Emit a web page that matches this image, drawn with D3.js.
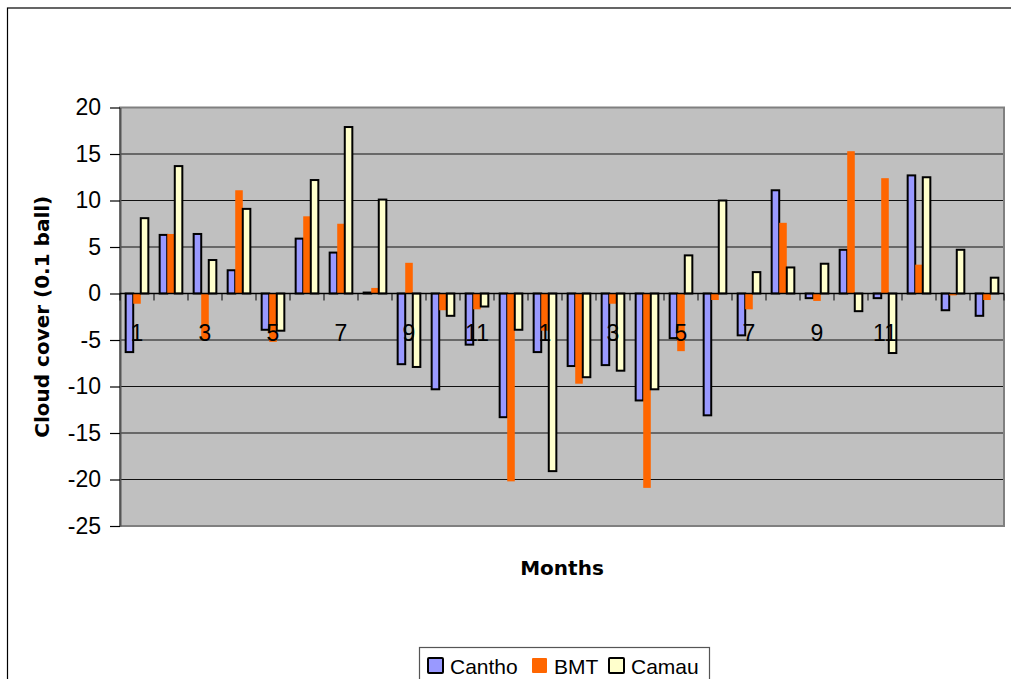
<!DOCTYPE html>
<html>
<head>
<meta charset="utf-8">
<script src="https://cdnjs.cloudflare.com/ajax/libs/d3/7.8.5/d3.min.js"></script>
<style>
  body { margin: 0; background: #fff; }
  svg { display: block; }
</style>
</head>
<body>
<div id="chart"></div>
<script>
// months 1..12, 1..12, 1..2
var months = ["1","2","3","4","5","6","7","8","9","10","11","12",
              "1","2","3","4","5","6","7","8","9","10","11","12","1","2"];
var cantho = [-6.3, 6.3, 6.4, 2.5, -3.9, 5.9, 4.4, 0.1, -7.6, -10.3, -5.5, -13.3,
              -6.3, -7.8, -7.7, -11.5, -4.8, -13.1, -4.5, 11.1, -0.5, 4.7, -0.5, 12.7, -1.8, -2.4];
var bmt    = [-1.1, 6.4, -4.9, 11.1, -5.2, 8.3, 7.5, 0.6, 3.3, -1.8, -1.7, -20.2,
              -4.0, -9.7, -1.1, -20.9, -6.2, -0.7, -1.7, 7.6, -0.8, 15.3, 12.4, 3.1, -0.2, -0.7];
var camau  = [8.1, 13.7, 3.6, 9.1, -4.0, 12.2, 17.9, 10.1, -7.9, -2.4, -1.4, -3.9,
              -19.1, -9.0, -8.3, -10.3, 4.1, 10.0, 2.3, 2.8, 3.2, -1.9, -6.4, 12.5, 4.7, 1.7];
var seriesNames = ["Cantho", "BMT", "Camau"];
var yTicks = [-25, -20, -15, -10, -5, 0, 5, 10, 15, 20];

var W = 1011, H = 679;
var plot = {left: 120, right: 1004, top: 107.5, bottom: 526};
var fills = {"Cantho": "#9999ff", "BMT": "#ff6600", "Camau": "#ffffcc"};
var strokes = {"Cantho": "#000", "BMT": "none", "Camau": "#000"};

var data = months.map(function(m, i) {
    return {idx: i, label: m, values: [cantho[i], bmt[i], camau[i]]};
});

var svg = d3.select("#chart").append("svg")
    .attr("width", W)
    .attr("height", H);

// chart border
svg.append("rect")
    .attr("x", 7.5).attr("y", 8)
    .attr("width", 1100).attr("height", 800)
    .attr("fill", "#fff")
    .attr("stroke", "#000")
    .attr("stroke-width", 1.2);

var x0 = d3.scaleBand()
    .domain(d3.range(months.length))
    .range([plot.left, plot.right])
    .padding(0);

var x1 = d3.scaleBand()
    .domain(seriesNames)
    .range([0, x0.bandwidth()])
    .paddingInner(0)
    .paddingOuter(0.75);

var y = d3.scaleLinear()
    .domain([-25, 20])
    .range([plot.bottom, plot.top]);

// plot area
svg.append("rect")
    .attr("x", plot.left).attr("y", plot.top)
    .attr("width", plot.right - plot.left)
    .attr("height", plot.bottom - plot.top)
    .attr("fill", "#c0c0c0");

// gridlines
svg.append("g")
    .selectAll("line")
    .data(yTicks.filter(function(t) { return t > -25 && t < 20; }))
    .enter().append("line")
    .attr("x1", plot.left).attr("x2", plot.right)
    .attr("y1", function(d) { return y(d); })
    .attr("y2", function(d) { return y(d); })
    .attr("stroke", "#111")
    .attr("stroke-width", 1.2);

svg.append("rect")
    .attr("x", plot.left).attr("y", plot.top)
    .attr("width", plot.right - plot.left)
    .attr("height", plot.bottom - plot.top)
    .attr("fill", "none")
    .attr("stroke", "#808080")
    .attr("stroke-width", 2);

// y axis
var yAxis = svg.append("g")
    .attr("transform", "translate(" + plot.left + ",0)")
    .call(d3.axisLeft(y).tickValues(yTicks)
        .tickFormat(function(d) { return String(d); })
        .tickSize(10).tickPadding(9).tickSizeOuter(0));
yAxis.select(".domain").attr("stroke", "#555").attr("stroke-width", 2);
yAxis.selectAll(".tick line").attr("stroke", "#000").attr("stroke-width", 1.2);
yAxis.selectAll(".tick text")
    .attr("font-family", "Liberation Sans, Arial, sans-serif")
    .attr("font-size", "23px")
    .attr("fill", "#000");

// bars
var groups = svg.append("g")
    .selectAll("g")
    .data(data)
    .enter().append("g")
    .attr("transform", function(d) { return "translate(" + x0(d.idx) + ",0)"; });

groups.selectAll("rect")
    .data(function(d) {
        return seriesNames.map(function(s, k) { return {series: s, value: d.values[k]}; });
    })
    .enter().append("rect")
    .attr("x", function(d) { return x1(d.series); })
    .attr("width", x1.bandwidth())
    .attr("y", function(d) { return y(Math.max(0, d.value)); })
    .attr("height", function(d) { return Math.abs(y(d.value) - y(0)); })
    .attr("fill", function(d) { return fills[d.series]; })
    .attr("stroke", function(d) { return strokes[d.series]; })
    .attr("stroke-width", 2);

// category axis at zero
var xAxisTicks = d3.range(months.length + 1).map(function(i) {
    return plot.left + i * x0.step();
});
var xAxis = svg.append("g");
xAxis.append("line")
    .attr("x1", plot.left).attr("x2", plot.right)
    .attr("y1", y(0)).attr("y2", y(0))
    .attr("stroke", "#000")
    .attr("stroke-width", 1.5);
xAxis.selectAll(".xt")
    .data(xAxisTicks)
    .enter().append("line")
    .attr("class", "xt")
    .attr("x1", function(d) { return d; })
    .attr("x2", function(d) { return d; })
    .attr("y1", y(0)).attr("y2", y(0) + 7)
    .attr("stroke", "#000")
    .attr("stroke-width", 1);
xAxis.selectAll("text")
    .data(data.filter(function(d) { return d.idx % 2 === 0 && d.idx < 24; }))
    .enter().append("text")
    .attr("x", function(d) { return x0(d.idx) + x0.bandwidth() / 2; })
    .attr("y", y(0) + 47)
    .attr("text-anchor", "middle")
    .attr("font-family", "Liberation Sans, Arial, sans-serif")
    .attr("font-size", "23px")
    .attr("fill", "#000")
    .text(function(d) { return d.label; });

// axis titles
svg.append("text")
    .attr("transform", "translate(49," + ((plot.top + plot.bottom) / 2) + ") rotate(-90)")
    .attr("text-anchor", "middle")
    .attr("font-family", "DejaVu Sans, Verdana, sans-serif")
    .attr("font-weight", "bold")
    .attr("font-size", "20px")
    .text("Cloud cover (0.1 ball)");

svg.append("text")
    .attr("x", 562)
    .attr("y", 575)
    .attr("text-anchor", "middle")
    .attr("font-family", "DejaVu Sans, Verdana, sans-serif")
    .attr("font-weight", "bold")
    .attr("font-size", "20px")
    .text("Months");

// legend
var legend = svg.append("g");
legend.append("rect")
    .attr("x", 419.5).attr("y", 647.5)
    .attr("width", 290).attr("height", 50)
    .attr("fill", "#fff")
    .attr("stroke", "#555")
    .attr("stroke-width", 1.2);

var legendX = [428, 532, 609];
var items = legend.selectAll(".item")
    .data(seriesNames)
    .enter().append("g")
    .attr("class", "item")
    .attr("transform", function(d, i) { return "translate(" + legendX[i] + ",658)"; });
items.append("rect")
    .attr("width", 15).attr("height", 15)
    .attr("rx", 1)
    .attr("fill", function(d) { return fills[d]; })
    .attr("stroke", function(d) { return strokes[d]; })
    .attr("stroke-width", 2);
items.append("text")
    .attr("x", 22).attr("y", 16)
    .attr("font-family", "Liberation Sans, Arial, sans-serif")
    .attr("font-size", "21px")
    .attr("fill", "#000")
    .text(function(d) { return d; });
</script>
</body>
</html>
